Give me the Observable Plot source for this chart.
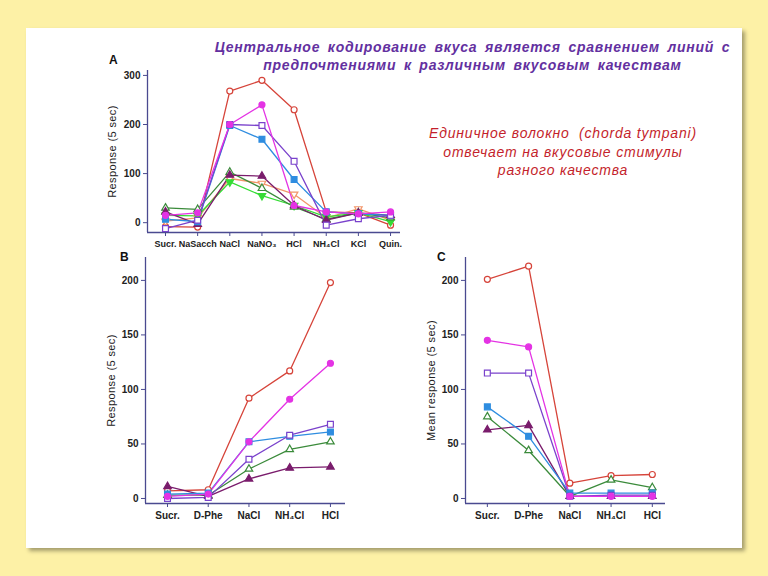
<!DOCTYPE html>
<html><head><meta charset="utf-8">
<script src="https://cdn.jsdelivr.net/npm/d3@7"></script>
<script src="https://cdn.jsdelivr.net/npm/@observablehq/plot@0.6"></script>
<style>
html,body{margin:0;padding:0;}
body{width:768px;height:576px;background:#fdf1a6;position:relative;overflow:hidden;font-family:"Liberation Sans",Arial,sans-serif;}
#card{position:absolute;left:26px;top:28px;width:716px;height:520px;background:#fff;box-shadow:3px 3px 4px rgba(0,0,0,0.35);}
.abs{position:absolute;}
#title{left:200px;top:38px;width:545px;text-align:center;color:#6330a0;font-weight:bold;font-style:italic;font-size:14px;line-height:18px;letter-spacing:0.75px;word-spacing:3px;}
#note{left:405px;top:124px;width:316px;text-align:center;color:#c41f2c;font-style:italic;font-size:14px;line-height:18.5px;letter-spacing:0.8px;}
.plt{position:absolute;}
.plt svg{overflow:visible;}
.plt g[aria-label="y-axis label"] text{font-weight:normal;font-size:11px;letter-spacing:0.4px;}
.letter{position:absolute;font-weight:bold;font-size:12px;color:#111;}
</style></head>
<body>
<div id="card"></div>
<div id="title" class="abs">Центральное кодирование вкуса является сравнением линий с<br>предпочтениями к различным вкусовым качествам</div>
<div id="note" class="abs">Единичное волокно &nbsp;(chorda tympani)<br>отвечает на вкусовые стимулы<br>разного качества</div>
<div class="letter" style="left:109px;top:53px">A</div>
<div class="letter" style="left:120px;top:250px">B</div>
<div class="letter" style="left:437px;top:250px">C</div>
<div id="pA" class="plt" style="left:100px;top:50px"></div>
<div id="pB" class="plt" style="left:100px;top:237px"></div>
<div id="pC" class="plt" style="left:420px;top:237px"></div>
<script>
// ---- data ----
const catsA = ["Sucr.","NaSacch","NaCl","NaNO₃","HCl","NH₄Cl","KCl","Quin."];
const catsBC = ["Sucr.","D-Phe","NaCl","NH₄Cl","HCl"];
const ticksA = [0,100,200,300];
const ticksBC = [0,50,100,150,200];

// Panel A
const redA     = [-8,-9,268,290,230,22,20,-5];
const magentaA = [15,20,200,240,35,22,18,22];
const purpleA  = [-12,5,200,198,125,-5,8,15];
const blueA    = [7,2,198,170,88,22,18,15];
const greenA   = [30,27,103,70,32,7,20,10];
const plumA    = [22,-3,97,95,35,5,20,15];
const orangeA  = [3,10,90,80,58,10,28,5];
const limeA    = [15,14,83,55,35,12,20,2];

// Panel B
const redB     = [7,8,92,117,198];
const magentaB = [2,4,52,91,124];
const purpleB  = [0,1,36,58,68];
const blueB    = [4,5,52,57,61];
const greenB   = [3,3,27,45,52];
const plumB    = [11,2,18,28,29];

// Panel C
const redC     = [201,213,14,21,22];
const magentaC = [145,139,2,2,2];
const purpleC  = [115,115,2,3,3];
const blueC    = [84,57,5,5,5];
const greenC   = [75,44,2,17,10];
const plumC    = [63,67,2,2,2];

// ---- styles ----
const sty = {
  red:     {color:"#d6443a", symbol:"circle",   open:true},
  magenta: {color:"#e433e4", symbol:"circle",   open:false},
  purple:  {color:"#7a42cc", symbol:"square",   open:true},
  blue:    {color:"#2f8de0", symbol:"square",   open:false},
  green:   {color:"#3b8b3b", symbol:"triangle", open:true},
  plum:    {color:"#7a1c6c", symbol:"triangle", open:false},
  orange:  {color:"#f2956a", symbol:"triangle", open:true, rot:180},
  lime:    {color:"#35dc35", symbol:"triangle", open:false, rot:180}
};
const symR = {circle:3.0, square:3.3, triangle:2.8};
const axisColor = "#4a4a90";

function panel(el, cats, series, o) {
  const marks = [];
  marks.push(Plot.ruleX([o.xDomain[0]], {stroke:axisColor, strokeWidth:1.3}));
  marks.push(Plot.ruleY([o.yDomain[0]], {stroke:axisColor, strokeWidth:1.3}));
  marks.push(Plot.axisY({ticks:o.yTicks, tickSize:4, tickPadding:3, stroke:axisColor, fill:"#222", fontWeight:"bold", fontSize:10,
    label:o.yLabel, labelAnchor:"center", labelArrow:"none", labelOffset:o.labelOffset}));
  marks.push(Plot.axisX({ticks:d3.range(cats.length), tickFormat:i=>cats[i], tickSize:4, tickPadding:4, stroke:axisColor, fill:"#222", fontWeight:"bold", fontSize:o.xFont, label:null}));
  for (const [key, vals] of series) {
    const s = sty[key];
    const d = vals.map((v,i)=>({i, v}));
    marks.push(Plot.line(d, {x:"i", y:"v", stroke:s.color, strokeWidth:1.3}));
  }
  for (const [key, vals] of series) {
    const s = sty[key];
    const d = vals.map((v,i)=>({i, v}));
    marks.push(Plot.dot(d, {x:"i", y:"v", symbol:s.symbol, r:symR[s.symbol], stroke:s.color, strokeWidth:1.2,
      fill: s.open ? "white" : s.color, rotate: s.rot || 0}));
  }
  const chart = Plot.plot({
    width:o.width, height:o.height,
    marginLeft:o.ml, marginRight:o.mr, marginTop:o.mt, marginBottom:o.mb,
    style:{fontFamily:"'Liberation Sans', Arial, sans-serif", fontSize:"10px", background:"transparent"},
    x:{type:"linear", domain:o.xDomain},
    y:{domain:o.yDomain},
    marks
  });
  document.getElementById(el).appendChild(chart);
}

panel("pA", catsA, [["red",redA],["orange",orangeA],["lime",limeA],["green",greenA],["plum",plumA],["blue",blueA],["purple",purpleA],["magenta",magentaA]], {
  width:310, height:210, ml:47, mr:10, mt:20, mb:28, xFont:9,
  xDomain:[-0.56,7.31], yDomain:[-20,310], yTicks:ticksA,
  yLabel:"Response (5 sec)", labelOffset:39
});
panel("pB", catsBC, [["red",redB],["green",greenB],["plum",plumB],["blue",blueB],["purple",purpleB],["magenta",magentaB]], {
  width:270, height:290, ml:45, mr:25, mt:20, mb:24, xFont:10,
  xDomain:[-0.54,4.37], yDomain:[-4.6,221], yTicks:ticksBC,
  yLabel:"Response (5 sec)", labelOffset:38
});
panel("pC", catsBC, [["red",redC],["green",greenC],["plum",plumC],["blue",blueC],["purple",purpleC],["magenta",magentaC]], {
  width:270, height:290, ml:45, mr:25, mt:20, mb:24, xFont:10,
  xDomain:[-0.53,4.32], yDomain:[-4.6,221], yTicks:ticksBC,
  yLabel:"Mean response (5 sec)", labelOffset:38
});
</script>
</body></html>
